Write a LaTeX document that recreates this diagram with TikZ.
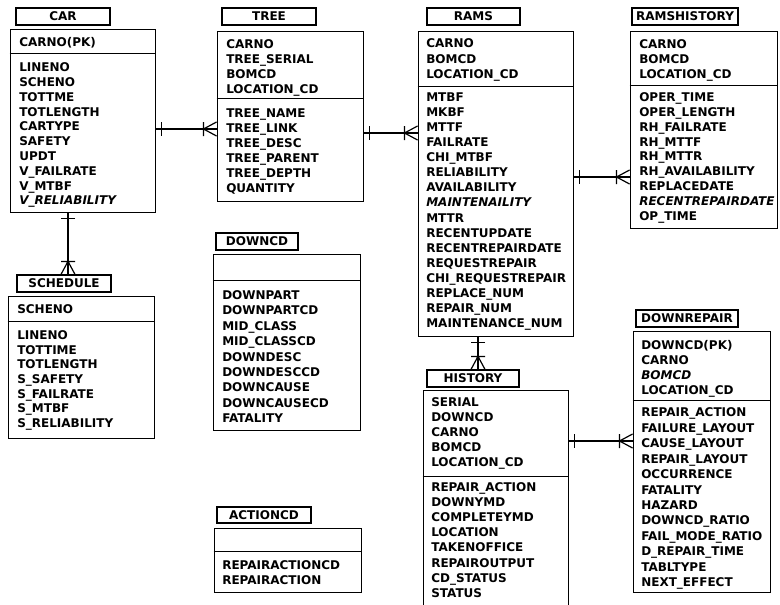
\documentclass[tikz,border=0pt]{standalone}
\usepackage{fontspec}
\setmainfont{DejaVu Sans}
\usetikzlibrary{fit,decorations.markings}

\begin{document}
\begin{tikzpicture}[x=.75pt, y=-.75pt, font=\bfseries\fontsize{9}{11.25}\selectfont,
  kopf/.style={draw, line width=.9pt, inner sep=0pt, label={[inner sep=0pt]center:#1}},
  tabelle/.style={draw, line width=.7pt, inner sep=0pt},
  trenner/.style={line width=.7pt},
  feld/.style={anchor=north west, inner sep=0pt, align=left, font=\bfseries\fontsize{9}{#1}\selectfont},
  feld/.default=11.25,
  einsviele/.style={line width=.9pt, postaction={decorate, decoration={markings,
    mark=at position 4.5pt with {\draw[line width=.9pt] (0,-7) -- (0,7);},
    mark=at position -9.75pt with {\draw[line width=.9pt] (0,-7) -- (0,7) (0,0) -- (13,-7) (0,0) -- (13,7);}}}}]
\useasboundingbox (0,0) rectangle (780,604);

%CAR
\node[kopf=CAR, fit={(16,8) (110,25)}] (cartitel) {};
\node[tabelle, fit={(10,29) (155,212)}] (car) {};
\draw[trenner] (car.west |- 0,53) -- (car.east |- 0,53);
\node[feld] (carkey) at (19,37.5) {CARNO(PK)};
\node[feld=11.1] (carfeld) at (19,62.5) {LINENO\\SCHENO\\TOTTME\\TOTLENGTH\\CARTYPE\\SAFETY\\UPDT\\V\_FAILRATE\\V\_MTBF\\\textit{V\_RELIABILITY}};

%TREE
\node[kopf=TREE, fit={(222,8) (316,25)}] (treetitel) {};
\node[tabelle, fit={(217,31) (363,201)}] (tree) {};
\draw[trenner] (tree.west |- 0,98) -- (tree.east |- 0,98);
\node[feld] (treekey) at (226,39.5) {CARNO\\TREE\_SERIAL\\BOMCD\\LOCATION\_CD};
\node[feld] (treefeld) at (226,108.5) {TREE\_NAME\\TREE\_LINK\\TREE\_DESC\\TREE\_PARENT\\TREE\_DEPTH\\QUANTITY};

%RAMS
\node[kopf=RAMS, fit={(427,8) (520,25)}] (ramstitel) {};
\node[tabelle, fit={(418,31) (573,336)}] (rams) {};
\draw[trenner] (rams.west |- 0,86) -- (rams.east |- 0,86);
\node[feld=11.6] (ramskey) at (426,38.5) {CARNO\\BOMCD\\LOCATION\_CD};
\node[feld=11.3] (ramsfeld) at (426,92.5) {MTBF\\MKBF\\MTTF\\FAILRATE\\CHI\_MTBF\\RELIABILITY\\AVAILABILITY\\\textit{MAINTENAILITY}\\MTTR\\RECENTUPDATE\\RECENTREPAIRDATE\\REQUESTREPAIR\\CHI\_REQUESTREPAIR\\REPLACE\_NUM\\REPAIR\_NUM\\MAINTENANCE\_NUM};

%RAMSHISTORY
\node[kopf=RAMSHISTORY, fit={(632,8) (738,25)}] (rhtitel) {};
\node[tabelle, fit={(630,31) (777,228)}] (ramshist) {};
\draw[trenner] (ramshist.west |- 0,85) -- (ramshist.east |- 0,85);
\node[feld] (rhkey) at (639,39.5) {CARNO\\BOMCD\\LOCATION\_CD};
\node[feld=11.1] (rhfeld) at (639,92.5) {OPER\_TIME\\OPER\_LENGTH\\RH\_FAILRATE\\RH\_MTTF\\RH\_MTTR\\RH\_AVAILABILITY\\REPLACEDATE\\\textit{RECENTREPAIRDATE}\\OP\_TIME};

%SCHEDULE
\node[kopf=SCHEDULE, fit={(17,275) (111,292)}] (schedtitel) {};
\node[tabelle, fit={(8,296) (154,438)}] (sched) {};
\draw[trenner] (sched.west |- 0,321) -- (sched.east |- 0,321);
\node[feld] (schedkey) at (17,304.5) {SCHENO};
\node[feld=10.95] (schedfeld) at (17,330.5) {LINENO\\TOTTIME\\TOTLENGTH\\S\_SAFETY\\S\_FAILRATE\\S\_MTBF\\S\_RELIABILITY};

%DOWNCD
\node[kopf=DOWNCD, fit={(216,233) (298,250)}] (downcdtitel) {};
\node[tabelle, fit={(213,254) (360,430)}] (downcd) {};
\draw[trenner] (downcd.west |- 0,280) -- (downcd.east |- 0,280);
\node[feld=11.6] (downcdfeld) at (222,290) {DOWNPART\\DOWNPARTCD\\MID\_CLASS\\MID\_CLASSCD\\DOWNDESC\\DOWNDESCCD\\DOWNCAUSE\\DOWNCAUSECD\\FATALITY};

%ACTIONCD
\node[kopf=ACTIONCD, fit={(217,507) (311,523)}] (actiontitel) {};
\node[tabelle, fit={(214,528) (361,592)}] (actioncd) {};
\draw[trenner] (actioncd.west |- 0,551) -- (actioncd.east |- 0,551);
\node[feld] (actionfeld) at (222,560.5) {REPAIRACTIONCD\\REPAIRACTION};

%HISTORY
\node[kopf=HISTORY, fit={(427,370) (519,387)}] (histtitel) {};
\node[tabelle, fit={(423,390) (568,612)}] (hist) {};
\draw[trenner] (hist.west |- 0,476) -- (hist.east |- 0,476);
\node[feld] (histkey) at (431,397.5) {SERIAL\\DOWNCD\\CARNO\\BOMCD\\LOCATION\_CD};
\node[feld=11.3] (histfeld) at (431,482.5) {REPAIR\_ACTION\\DOWNYMD\\COMPLETEYMD\\LOCATION\\TAKENOFFICE\\REPAIROUTPUT\\CD\_STATUS\\STATUS};

%DOWNREPAIR
\node[kopf=DOWNREPAIR, fit={(636,310) (738,327)}] (drtitel) {};
\node[tabelle, fit={(633,331) (770,592)}] (downrep) {};
\draw[trenner] (downrep.west |- 0,400) -- (downrep.east |- 0,400);
\node[feld] (drkey) at (641,340.5) {DOWNCD(PK)\\CARNO\\\textit{BOMCD}\\LOCATION\_CD};
\node[feld=11.6] (drfeld) at (641,407.5) {REPAIR\_ACTION\\FAILURE\_LAYOUT\\CAUSE\_LAYOUT\\REPAIR\_LAYOUT\\OCCURRENCE\\FATALITY\\HAZARD\\DOWNCD\_RATIO\\FAIL\_MODE\_RATIO\\D\_REPAIR\_TIME\\TABLTYPE\\NEXT\_EFFECT};

%Beziehungen
\draw[einsviele] (car.east |- 0,129) -- (tree.west |- 0,129);
\draw[einsviele] (tree.east |- 0,133) -- (rams.west |- 0,133);
\draw[einsviele] (rams.east |- 0,177) -- (ramshist.west |- 0,177);
\draw[einsviele] (car.south -| 68,0) -- (schedtitel.north -| 68,0);
\draw[einsviele] (rams.south -| 478,0) -- (histtitel.north -| 478,0);
\draw[einsviele] (hist.east |- 0,441) -- (downrep.west |- 0,441);
\end{tikzpicture}
\end{document}
